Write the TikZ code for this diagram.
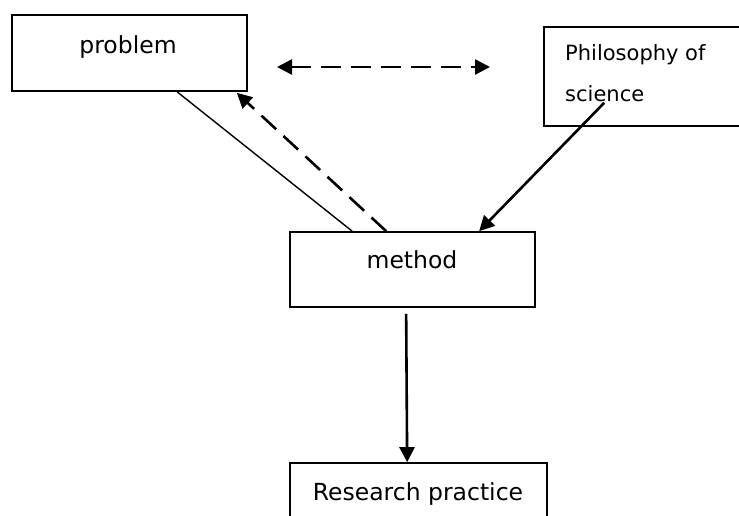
\documentclass[tikz,border=0pt]{standalone}
\usepackage{fontspec}
\setmainfont{DejaVu Sans}
\usetikzlibrary{arrows.meta,calc}
\begin{document}
\begin{tikzpicture}[x=1pt,y=-1pt,
  box/.style={draw, line width=1.7pt, rectangle, inner sep=0pt},
  lbl/.style={anchor=base, font=\fontsize{23.5}{28}\selectfont, inner sep=0pt},
  plbl/.style={anchor=base west, font=\fontsize{21}{25}\selectfont, inner sep=0pt},
  tip/.tip={Triangle[length=15pt,width=15pt]},
  conn/.style={line width=2.6pt, -tip},
  dsh/.style={dash pattern=on 20pt off 10pt},
  thin/.style={line width=1.4pt}]
\clip (0,0) rectangle (739,515);
\fill[white] (0,0) rectangle (739,515);
% boxes
\node[box, minimum width=235pt, minimum height=76pt] (prob) at (129.5,53) {};
\node[box, minimum width=216pt, minimum height=99pt] (phil) at (652,76.5) {};
\node[box, minimum width=245pt, minimum height=75pt] (meth) at (412.5,269.5) {};
\node[box, minimum width=257pt, minimum height=77pt] (res) at (418.5,501.5) {};
% texts
\node[lbl] (tprob) at (128,53) {problem};
\node[plbl] (tphil1) at (565,60) {Philosophy of};
\node[plbl] (tphil2) at (565,101) {science};
\node[lbl] (tmeth) at (412,268) {method};
\node[lbl] (tres) at (418,500) {Research practice};
% connectors
\coordinate (dl) at (277,67);
\coordinate (dr) at (490,67);
\draw[line width=2.6pt, dsh, tip-tip] (dl) -- (dr);
\draw[thin] ($(prob.south west)+(166,0)$) -- ($(meth.north west)+(63,0)$);
\draw[conn, dsh] ($(meth.north west)+(97,0)$) -- ($(prob.south east)+(-11,1)$);
\draw[conn] ($(phil.south west)+(61,-24)$) -- ($(meth.north west)+(190,0)$);
\draw[conn] ($(meth.south west)+(117,6)$) -- ($(res.north west)+(118,0)$);
\end{tikzpicture}
\end{document}
